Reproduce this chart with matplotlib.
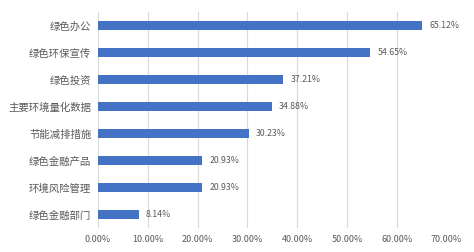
import matplotlib

matplotlib.use("Agg")
import matplotlib.pyplot as plt
import numpy as np

plt.rcParams["font.family"] = ["Noto Sans CJK SC", "DejaVu Sans"]

categories = ["绿色办公", "绿色环保宣传", "绿色投资", "主要环境量化数据",
              "节能减排措施", "绿色金融产品", "环境风险管理", "绿色金融部门"]
values = [65.12, 54.65, 37.21, 34.88, 30.23, 20.93, 20.93, 8.14]
xticks = [0, 10, 20, 30, 40, 50, 60, 70]

fig = plt.figure(figsize=(4.74, 2.52), dpi=100)
ax = fig.add_axes([0.207, 0.095, 0.735, 0.857])

y = np.arange(len(categories))[::-1]
ax.barh(y, values, height=0.32, color="#4472C4", zorder=3)

for yi, v in zip(y, values):
    ax.text(v + 1.5, yi, f"{v:.2f}%", va="center", ha="left",
            fontsize=6.3, color="#595959")

ax.set_xlim(0, 70)
ax.set_ylim(-0.5, len(categories) - 0.5)
ax.set_xticks(xticks)
ax.set_xticklabels([f"{t:.2f}%" for t in xticks], fontsize=6.5, color="#595959")
ax.set_yticks(y)
ax.set_yticklabels(categories, fontsize=7.5, color="#595959")
ax.tick_params(length=0, pad=5)
ax.grid(axis="x", color="#D9D9D9", linewidth=0.8, zorder=0)
for s in ax.spines.values():
    s.set_visible(False)

fig.savefig("out.png", dpi=100)
